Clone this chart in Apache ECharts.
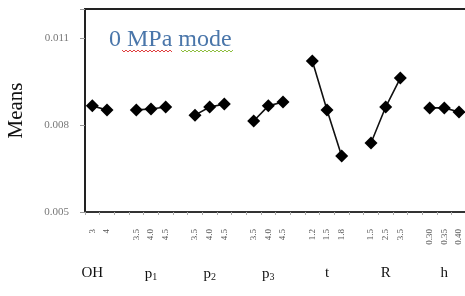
<!DOCTYPE html>
<html>
<head>
<meta charset="utf-8">
<script src="https://cdn.jsdelivr.net/npm/echarts@6/dist/echarts.min.js"></script>
<style>
  html, body { margin: 0; padding: 0; background: #fff; }
  #chart { width: 465px; height: 296px; }
</style>
</head>
<body>
<div id="chart"></div>
<script>
// factor levels, blank slots separate the groups
const levels = ['3', '4', '', '3.5', '4.0', '4.5', '', '3.5', '4.0', '4.5', '', '3.5', '4.0', '4.5', '',
  '1.2', '1.5', '1.8', '', '1.5', '2.5', '3.5', '', '0.30', '0.35', '0.40', ''];
const groupNames = ['OH', 'p1', 'p2', 'p3', 't', 'R', 'h'];

// means per factor
const meansOH = [0.00866, 0.00852];
const meansP1 = [0.00852, 0.00855, 0.00862];
const meansP2 = [0.00834, 0.00862, 0.00872];
const meansP3 = [0.00814, 0.00866, 0.00879];
const meansT = [0.01021, 0.00852, 0.00693];
const meansR = [0.00738, 0.00862, 0.00962];
const meansH = [0.00859, 0.00859, 0.00845];

const yTicks = [0.005, 0.008, 0.011];

const groups = [meansOH, meansP1, meansP2, meansP3, meansT, meansR, meansH];

// flatten with '-' gaps so lines break between groups
const seriesData = [];
const groupLabels = [];
groups.forEach((g, gi) => {
  const start = seriesData.length;
  g.forEach(v => { seriesData.push(v); groupLabels.push(''); });
  const mid = g.length === 2 ? start : start + 1;
  groupLabels[mid] = groupNames[gi];
  seriesData.push('-');
  groupLabels.push('');
});

const chart = echarts.init(document.getElementById('chart'));

const option = {
  animation: false,
  title: {
    text: '0 MPa mode',
    left: 104,
    top: 23,
    textStyle: {
      fontFamily: 'Liberation Serif',
      fontSize: 24,
      fontWeight: 'normal',
      color: '#4a76aa'
    }
  },
  grid: {
    left: 85,
    top: 9,
    width: 396,
    height: 203,
    outerBoundsMode: 'none',
    containLabel: false,
    show: true,
    borderColor: '#222',
    borderWidth: 2
  },
  xAxis: [
    {
      type: 'category',
      data: levels,
      boundaryGap: true,
      axisLine: { lineStyle: { color: '#333', width: 2 } },
      axisTick: { show: true, length: 3, lineStyle: { color: '#aaa' } },
      axisLabel: {
        interval: 0,
        rotate: 90,
        margin: 17,
        fontFamily: 'Liberation Serif',
        fontSize: 9,
        color: '#555'
      }
    },
    {
      type: 'category',
      data: groupLabels,
      position: 'bottom',
      offset: 0,
      boundaryGap: true,
      axisLine: { show: false },
      axisTick: { show: false },
      axisLabel: {
        interval: 0,
        margin: 54,
        formatter: function (val) {
          if (!val) return '';
          if (val[0] === 'p') return '{b|p}{s|' + val.slice(1) + '}';
          return '{b|' + val + '}';
        },
        rich: {
          b: { fontFamily: 'Liberation Serif', fontSize: 15, color: '#111' },
          s: { fontFamily: 'Liberation Serif', fontSize: 10, color: '#111', padding: [6, 0, 0, 0] }
        }
      }
    }
  ],
  yAxis: {
    type: 'value',
    min: 0.005,
    max: 0.012,
    interval: 0.003,
    name: 'Means',
    nameLocation: 'middle',
    nameGap: 58,
    nameTextStyle: {
      fontFamily: 'Liberation Serif',
      fontSize: 21,
      color: '#111'
    },
    splitLine: { show: false },
    axisLine: { show: true, lineStyle: { color: '#222', width: 2 } },
    axisTick: { show: true, length: 5, lineStyle: { color: '#999' } },
    axisLabel: {
      margin: 16,
      fontFamily: 'Liberation Serif',
      fontSize: 11,
      color: '#777',
      formatter: function (v) {
        const hit = yTicks.find(t => Math.abs(t - v) < 1e-7);
        return hit ? hit.toFixed(3) : '';
      }
    }
  },
  graphic: [
    {
      type: 'polyline',
      shape: { points: [[122, 50], [124, 52], [126, 50], [128, 52], [130, 50], [132, 52], [134, 50], [136, 52], [138, 50], [140, 52], [142, 50], [144, 52], [146, 50], [148, 52], [150, 50], [152, 52], [154, 50], [156, 52], [158, 50], [160, 52], [162, 50], [164, 52], [166, 50], [168, 52], [170, 50], [172, 52]] },
      style: { stroke: '#e04040', lineWidth: 1, fill: null }
    },
    {
      type: 'polyline',
      shape: { points: [[181, 50], [183, 52], [185, 50], [187, 52], [189, 50], [191, 52], [193, 50], [195, 52], [197, 50], [199, 52], [201, 50], [203, 52], [205, 50], [207, 52], [209, 50], [211, 52], [213, 50], [215, 52], [217, 50], [219, 52], [221, 50], [223, 52], [225, 50], [227, 52], [229, 50], [231, 52], [233, 50]] },
      style: { stroke: '#8fbf3f', lineWidth: 1, fill: null }
    }
  ],
  series: [
    {
      type: 'line',
      data: seriesData,
      connectNulls: false,
      symbol: 'diamond',
      symbolSize: 13,
      itemStyle: { color: '#000' },
      lineStyle: { color: '#111', width: 1.6 }
    }
  ]
};

chart.setOption(option);
</script>
</body>
</html>
